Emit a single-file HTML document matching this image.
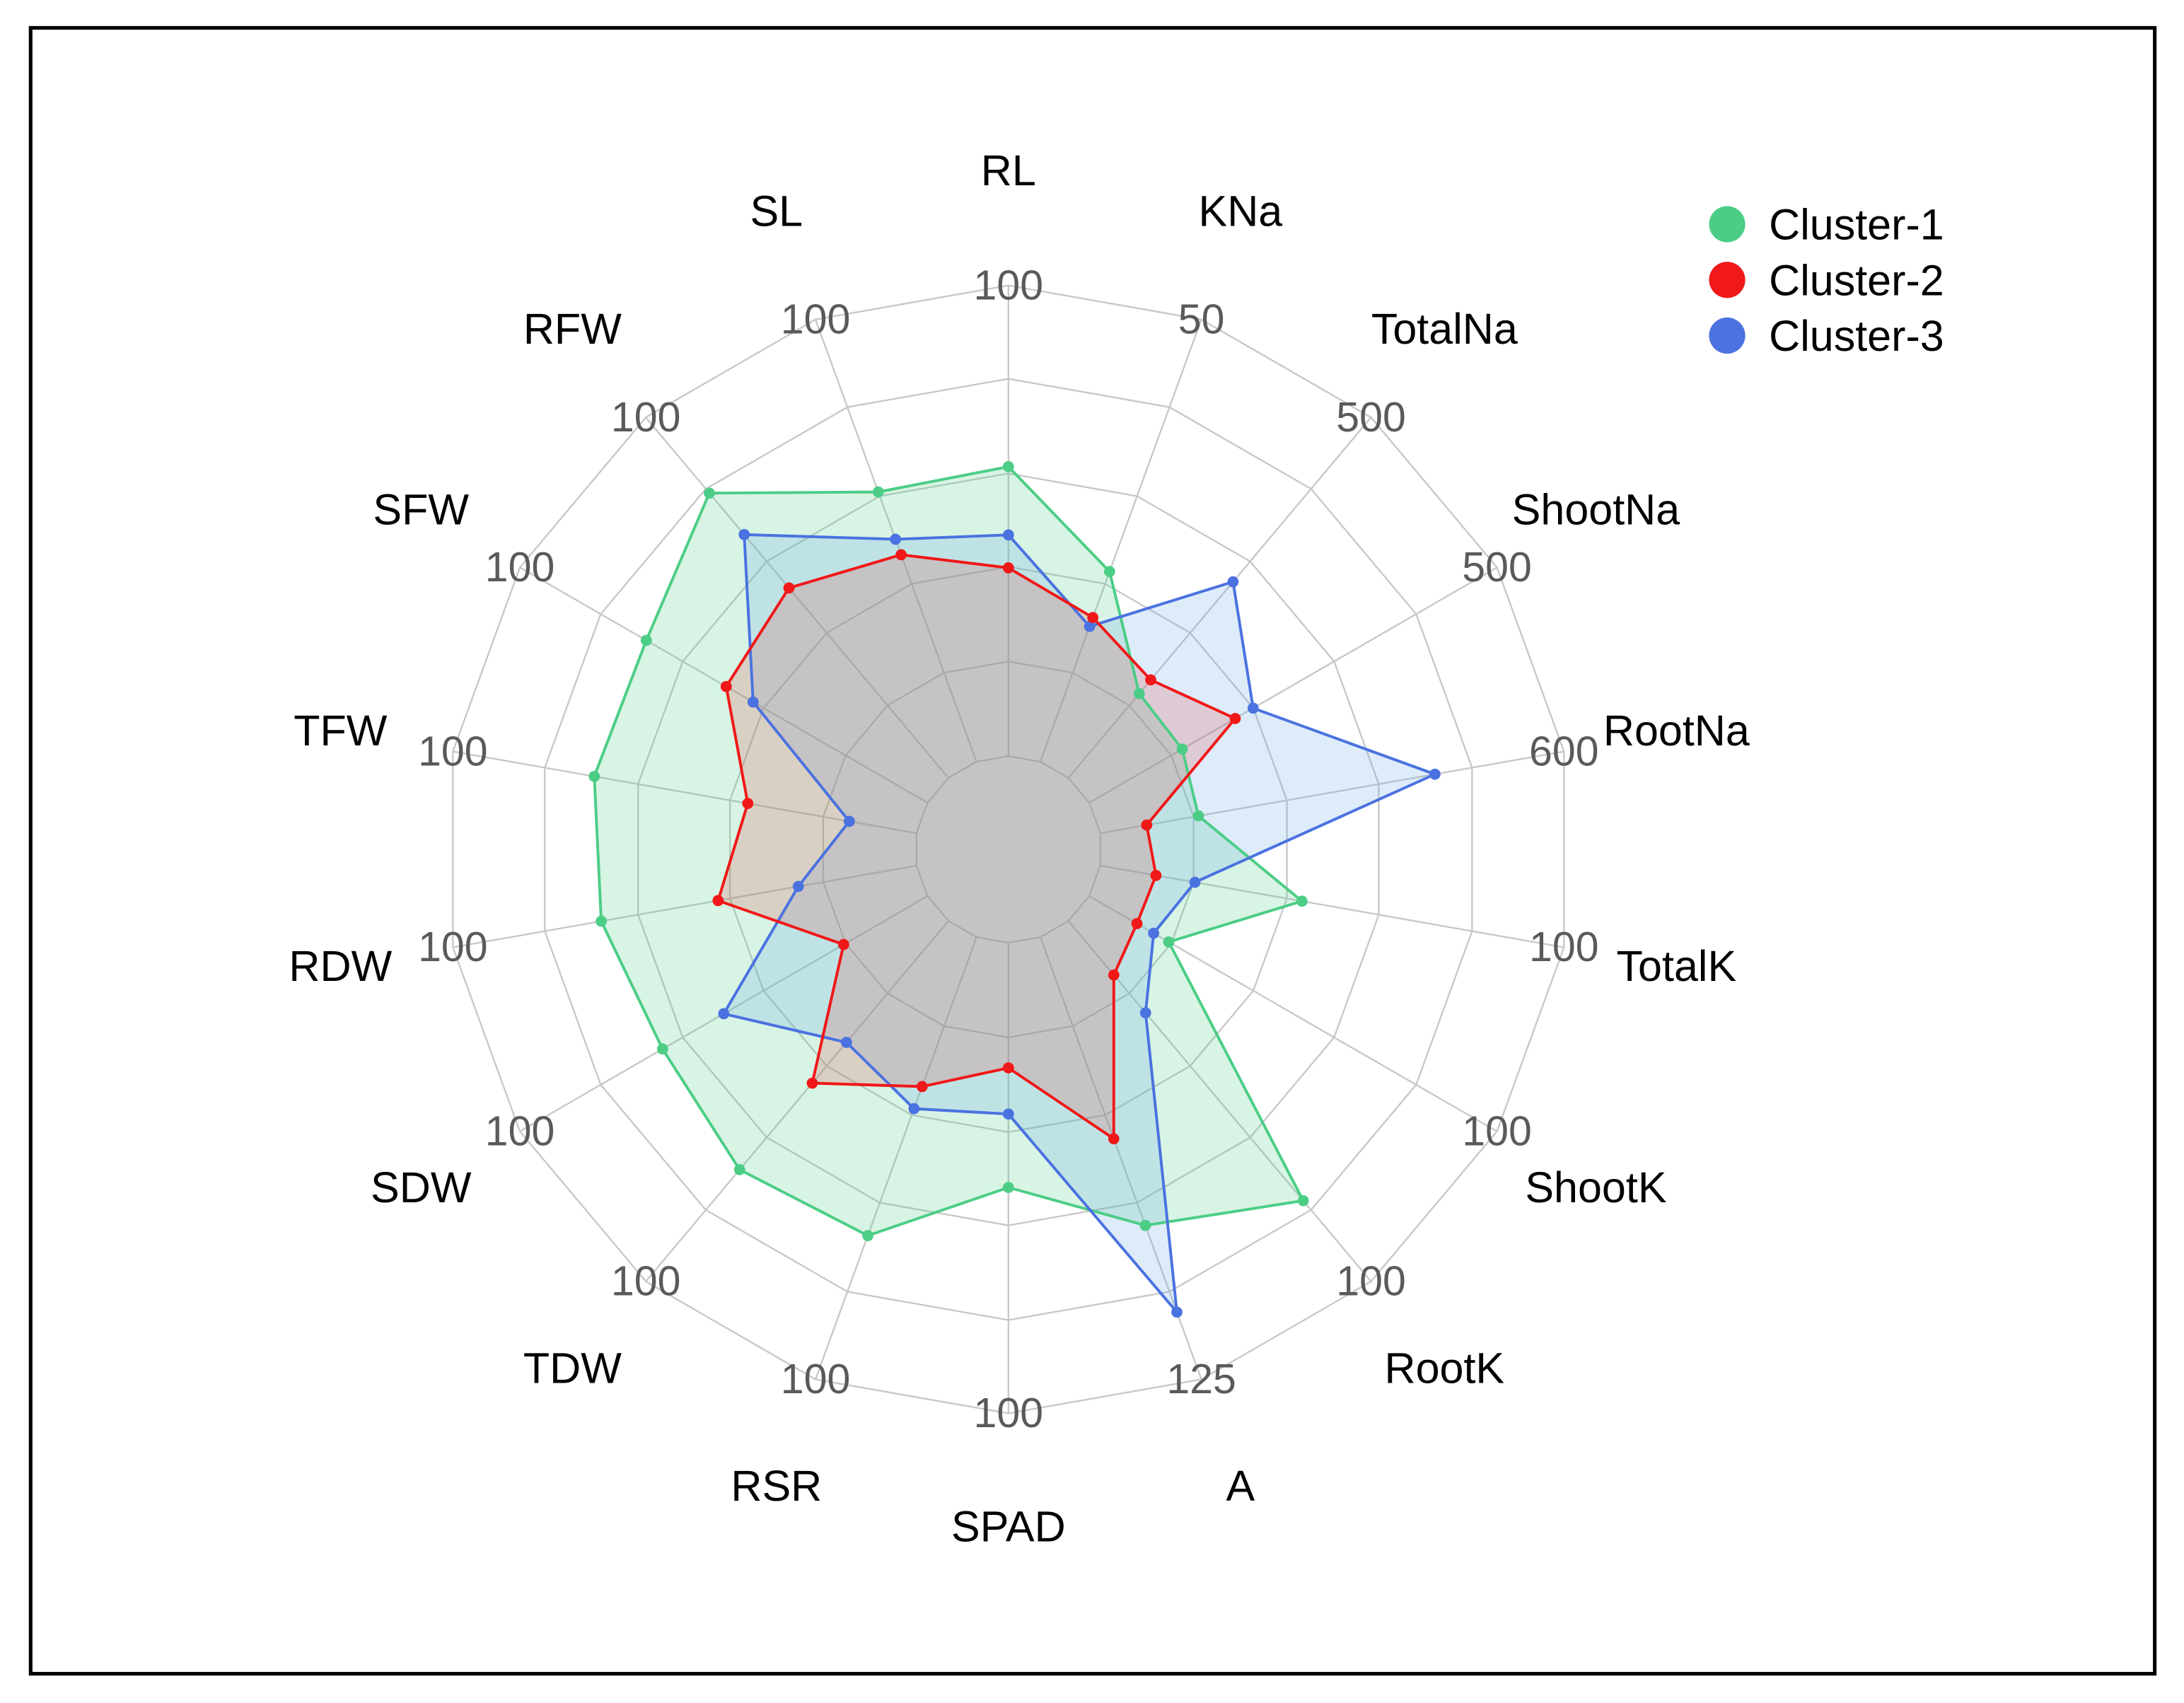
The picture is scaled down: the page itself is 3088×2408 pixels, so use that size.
<!DOCTYPE html>
<html><head><meta charset="utf-8">
<style>
html,body{margin:0;padding:0;background:#fff;}
svg{display:block;}
text{font-family:"Liberation Sans",Arial,sans-serif;}
</style></head>
<body>
<svg id="chart" width="3088" height="2408" viewBox="0 0 1568 1223" preserveAspectRatio="none" xmlns="http://www.w3.org/2000/svg">
<rect x="0" y="0" width="1568" height="1223" fill="#fff"/>
<rect x="22" y="20" width="1525" height="1182" fill="none" stroke="#000" stroke-width="2.6"/>
<g id="grid"></g>
<g id="series"></g>
<g id="labels"></g>
<g>
 <g><circle cx="1240" cy="161" r="13" fill="#4ccd86"/><text x="1270" y="172" font-size="31" fill="#000">Cluster-1</text></g>
 <g><circle cx="1240" cy="201" r="13" fill="#f01818"/><text x="1270" y="212" font-size="31" fill="#000">Cluster-2</text></g>
 <g><circle cx="1240" cy="241" r="13" fill="#4a72e0"/><text x="1270" y="252" font-size="31" fill="#000">Cluster-3</text></g>
</g>
</svg>
<script>
const axes = ["RL","KNa","TotalNa","ShootNa","RootNa","TotalK","ShootK","RootK","A","SPAD","RSR","TDW","SDW","RDW","TFW","SFW","RFW","SL"];
const axisMax = [100,50,500,500,600,100,100,100,125,100,100,100,100,100,100,100,100,100];
const cluster1 = [61.5,21.5,117,114,127,43.5,19.5,77.6,81.5,52,67.5,69,65,68,69.5,69,79,61];
const cluster2 = [40,16.3,136,179,60,12,11.7,15,57,26.6,33.8,45,20.6,42.8,36.4,49.4,52.7,46.8];
const cluster3 = [47,15.3,272,201,433,20.4,15.8,25.5,106,36.4,38.8,33.7,50,25.5,14.5,42.8,67.5,50.3];

const NS="http://www.w3.org/2000/svg";
const cx=724, cy=610, r0=67, rMax=405, rLab=487;
const n=axes.length;
function ang(i){return (i*360/n)*Math.PI/180;}
function pt(i,r){return [cx+r*Math.sin(ang(i)), cy-r*Math.cos(ang(i))];}
function rScale(i,v){return r0+(v/axisMax[i])*(rMax-r0);}
function mk(tag,attrs,parent){const e=document.createElementNS(NS,tag);for(const k in attrs)e.setAttribute(k,attrs[k]);parent.appendChild(e);return e;}

const grid=document.getElementById('grid');
const ringR=[r0,135,203,270,338,rMax];
ringR.forEach((r,k)=>{
  const pts=axes.map((a,i)=>pt(i,r).join(',')).join(' ');
  const p=mk('polygon',{points:pts,fill:'none',stroke:'#c8c8c8','stroke-width':1.2},grid);
  
  
});
axes.forEach((a,i)=>{
  const [x1,y1]=pt(i,r0),[x2,y2]=pt(i,rMax);
  const l=mk('line',{x1,y1,x2,y2,stroke:'#c8c8c8','stroke-width':1.2},grid);
  
  
});

const seriesG=document.getElementById('series');
const series=[
 {name:'cluster-1',vals:cluster1,line:'#4ccd86',fill:'#4ccd86'},
 {name:'cluster-3',vals:cluster3,line:'#4a72e0',fill:'#6aa8e8'},
 {name:'cluster-2',vals:cluster2,line:'#f01818',fill:'#e05050'}
];
series.forEach(s=>{
  const pts=s.vals.map((v,i)=>pt(i,rScale(i,v)).join(',')).join(' ');
  const p=mk('polygon',{points:pts,fill:s.fill,'fill-opacity':0.22,stroke:'none'},seriesG);
  
  
});
series.forEach(s=>{
  const pts=s.vals.map((v,i)=>pt(i,rScale(i,v)).join(',')).join(' ');
  const p=mk('polygon',{points:pts,fill:'none',stroke:s.line,'stroke-width':2},seriesG);
  
  
  s.vals.forEach((v,i)=>{
    const [x,y]=pt(i,rScale(i,v));
    const c=mk('circle',{cx:x,cy:y,r:4,fill:s.line},seriesG);
    
    
  });
});

const lab=document.getElementById('labels');
axes.forEach((a,i)=>{
  const [x,y]=pt(i,rLab);
  const t=mk('text',{x,y:y+10,'font-size':31,fill:'#000','text-anchor':'middle'},lab);
  t.textContent=a;
  
  
  const [tx,ty]=pt(i,rMax);
  const m=mk('text',{x:tx,y:ty+10,'font-size':30,fill:'#5a5a5a','text-anchor':'middle'},lab);
  m.textContent=String(axisMax[i]);
  
  
});
</script>
</body></html>
